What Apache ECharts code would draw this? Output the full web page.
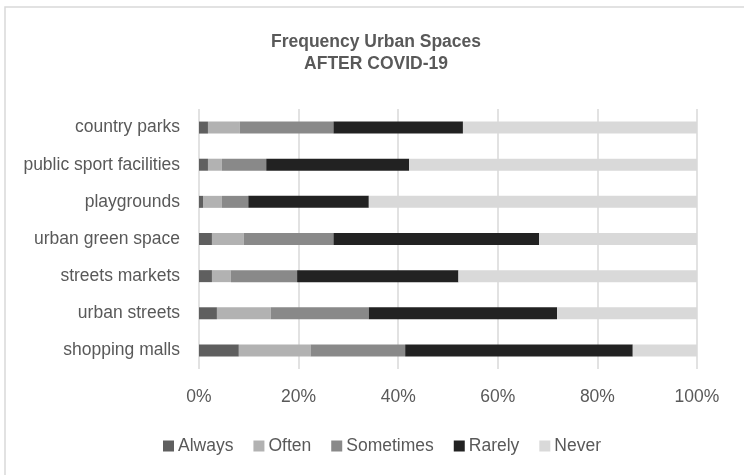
<!DOCTYPE html>
<html>
<head>
<meta charset="utf-8">
<script src="https://cdn.jsdelivr.net/npm/echarts@6/dist/echarts.min.js"></script>
<style>
  html, body { margin: 0; padding: 0; background: #fff; }
  #chart { width: 744px; height: 475px; }
</style>
</head>
<body>
<div id="chart"></div>
<script>
// Urban space visit frequency after COVID-19 (share of respondents, %)
const categories = ['country parks', 'public sport facilities', 'playgrounds', 'urban green space', 'streets markets', 'urban streets', 'shopping malls'];
const always    = [1.8, 1.8, 0.8, 2.6, 2.6, 3.6, 8.0];
const often     = [6.4, 2.8, 3.8, 6.4, 3.8, 10.8, 14.4];
const sometimes = [18.8, 8.9, 5.3, 18.0, 13.3, 19.7, 19.0];
const rarely    = [26.0, 28.7, 24.2, 41.3, 32.4, 37.8, 45.7];
const never     = [47.0, 57.8, 65.9, 31.7, 47.9, 28.1, 12.9];
const xTicks    = [0, 20, 40, 60, 80, 100];

const font = 'Liberation Sans, Arial, sans-serif';
const textColor = '#595959';

const seriesDefs = [
  { name: 'Always', data: always, color: '#5f5f5f' },
  { name: 'Often', data: often, color: '#b2b2b2' },
  { name: 'Sometimes', data: sometimes, color: '#898989' },
  { name: 'Rarely', data: rarely, color: '#222222' },
  { name: 'Never', data: never, color: '#d9d9d9' }
];

const chart = echarts.init(document.getElementById('chart'));
chart.setOption({
  animation: false,
  backgroundColor: '#ffffff',
  graphic: [{
    type: 'rect',
    shape: { x: 5, y: 7, width: 760, height: 500 },
    style: { fill: 'none', stroke: '#d9d9d9', lineWidth: 1.5 },
    silent: true
  }],
  title: {
    text: 'Frequency Urban Spaces\nAFTER COVID-19',
    left: 371,
    textAlign: 'center',
    top: 26,
    textStyle: { fontFamily: font, fontSize: 17.5, fontWeight: 'bold', color: textColor, lineHeight: 22 }
  },
  legend: {
    top: 432,
    left: 158,
    itemWidth: 11,
    itemHeight: 11,
    itemGap: 20,
    icon: 'rect',
    textStyle: { fontFamily: font, fontSize: 17.5, color: textColor, padding: [0, 0, 0, -1] },
    data: seriesDefs.map(s => s.name)
  },
  grid: { left: 199, right: 47, top: 109, bottom: 106 },
  xAxis: {
    type: 'value',
    min: 0,
    max: 100,
    interval: 20,
    axisLine: { show: false },
    axisTick: { show: false },
    splitLine: { lineStyle: { color: '#d9d9d9', width: 1.5 } },
    axisLabel: {
      margin: 19,
      fontFamily: font, fontSize: 17.5, color: textColor,
      formatter: v => xTicks.includes(v) ? v + '%' : ''
    }
  },
  yAxis: {
    type: 'category',
    inverse: true,
    data: categories,
    axisLine: { show: false },
    axisTick: { show: false },
    axisLabel: { margin: 19, fontFamily: font, fontSize: 17.5, color: textColor }
  },
  series: seriesDefs.map(s => ({
    name: s.name,
    type: 'bar',
    stack: 'total',
    barWidth: 12,
    data: s.data,
    itemStyle: { color: s.color }
  }))
});
</script>
</body>
</html>
